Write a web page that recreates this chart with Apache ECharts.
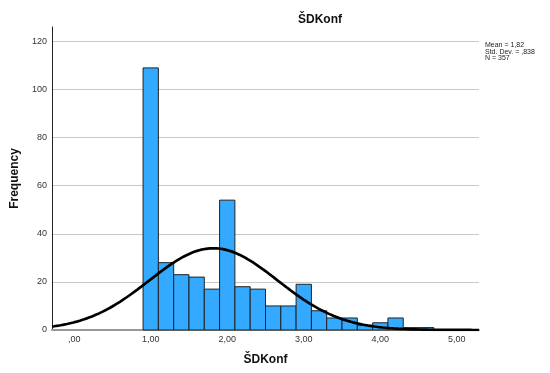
<!DOCTYPE html>
<html>
<head>
<meta charset="utf-8">
<title>ŠDKonf</title>
<script src="https://cdn.jsdelivr.net/npm/echarts@6/dist/echarts.min.js"></script>
<style>
  html, body { margin: 0; padding: 0; background: #fff; }
  #chart { width: 550px; height: 373px; }
</style>
</head>
<body>
<div id="chart"></div>
<script>
// Histogram bins (lower edge of each bin, width 0.2) and their frequencies
const binStarts = [0.9, 1.1, 1.3, 1.5, 1.7, 1.9, 2.1, 2.3, 2.5, 2.7, 2.9, 3.1, 3.3, 3.5, 3.7, 3.9, 4.1, 4.3, 4.5];
const counts    = [109, 28,  23,  22,  17,  54,  18,  17,  10,  10,  19,  8,   5,   5,   2,   3,   5,   1,   1];
const binWidth = 0.2;

// Summary statistics shown beside the plot
const mean = 1.82;
const stdDev = 0.838;
const nTotal = 357;

// Axis tick labels
const xTicks = [0, 1, 2, 3, 4, 5];
const yTicks = [0, 20, 40, 60, 80, 100, 120];

const xMin = -0.29, xMax = 5.29;
const FONT = 'Liberation Sans, Arial, sans-serif';

// Fitted normal curve, scaled to counts per bin
const curve = [];
const steps = 200;
for (let i = 0; i <= steps; i++) {
  const x = xMin + (xMax - xMin) * i / steps;
  const z = (x - mean) / stdDev;
  const y = nTotal * binWidth * Math.exp(-0.5 * z * z) / (stdDev * Math.sqrt(2 * Math.PI));
  curve.push([x, y]);
}

const bars = binStarts.map((s, i) => [s, s + binWidth, counts[i]]);

function fmtComma(v) {
  if (v === 0) return ',00';
  return v.toFixed(2).replace('.', ',');
}

const chart = echarts.init(document.getElementById('chart'), null, { renderer: 'canvas' });
chart.setOption({
  animation: false,
  backgroundColor: '#fff',
  textStyle: { fontFamily: FONT },
  title: {
    text: 'ŠDKonf',
    left: 293,
    top: 9,
    textStyle: { fontFamily: FONT, fontSize: 12, fontWeight: 'bold', color: '#111' }
  },
  graphic: [{
    type: 'text',
    left: 485,
    top: 42,
    style: {
      text: 'Mean = 1,82\nStd. Dev. = ,838\nN = 357',
      font: '7px ' + FONT,
      lineHeight: 6.5,
      fill: '#222'
    }
  }],
  grid: { left: 52, right: 71, top: 27, bottom: 43, containLabel: false },
  xAxis: {
    type: 'value',
    min: xMin,
    max: xMax,
    name: 'ŠDKonf',
    nameLocation: 'middle',
    nameGap: 24,
    nameTextStyle: { fontFamily: FONT, fontSize: 12, fontWeight: 'bold', color: '#111' },
    axisLine: { show: true, onZero: false, lineStyle: { color: '#999', width: 2 } },
    axisTick: { show: false, customValues: xTicks },
    axisLabel: {
      customValues: xTicks,
      formatter: fmtComma,
      fontFamily: FONT, fontSize: 9, color: '#333', margin: 5
    },
    splitLine: { show: false }
  },
  yAxis: {
    type: 'value',
    min: 0,
    max: 126,
    name: 'Frequency',
    nameLocation: 'middle',
    nameGap: 29,
    nameTextStyle: { fontFamily: FONT, fontSize: 12, fontWeight: 'bold', color: '#111' },
    axisLine: { show: true, onZero: false, lineStyle: { color: '#222', width: 1 } },
    axisTick: { show: false, customValues: yTicks },
    axisLabel: {
      customValues: yTicks,
      fontFamily: FONT, fontSize: 9, color: '#333', margin: 5
    },
    splitLine: { show: true, lineStyle: { color: '#c8c8c8', width: 1 } }
  },
  series: [
    {
      type: 'custom',
      name: 'ŠDKonf',
      data: bars,
      encode: { x: [0, 1], y: 2 },
      renderItem: function (params, api) {
        const p0 = api.coord([api.value(0), 0]);
        const p1 = api.coord([api.value(1), api.value(2)]);
        return {
          type: 'rect',
          shape: { x: p0[0], y: p1[1], width: p1[0] - p0[0], height: p0[1] - p1[1] },
          style: { fill: '#33aaff', stroke: '#222', lineWidth: 1 }
        };
      },
      z: 2
    },
    {
      type: 'line',
      name: 'Normal',
      data: curve,
      showSymbol: false,
      smooth: false,
      lineStyle: { color: '#000', width: 2.7 },
      z: 3
    }
  ]
});
</script>
</body>
</html>
